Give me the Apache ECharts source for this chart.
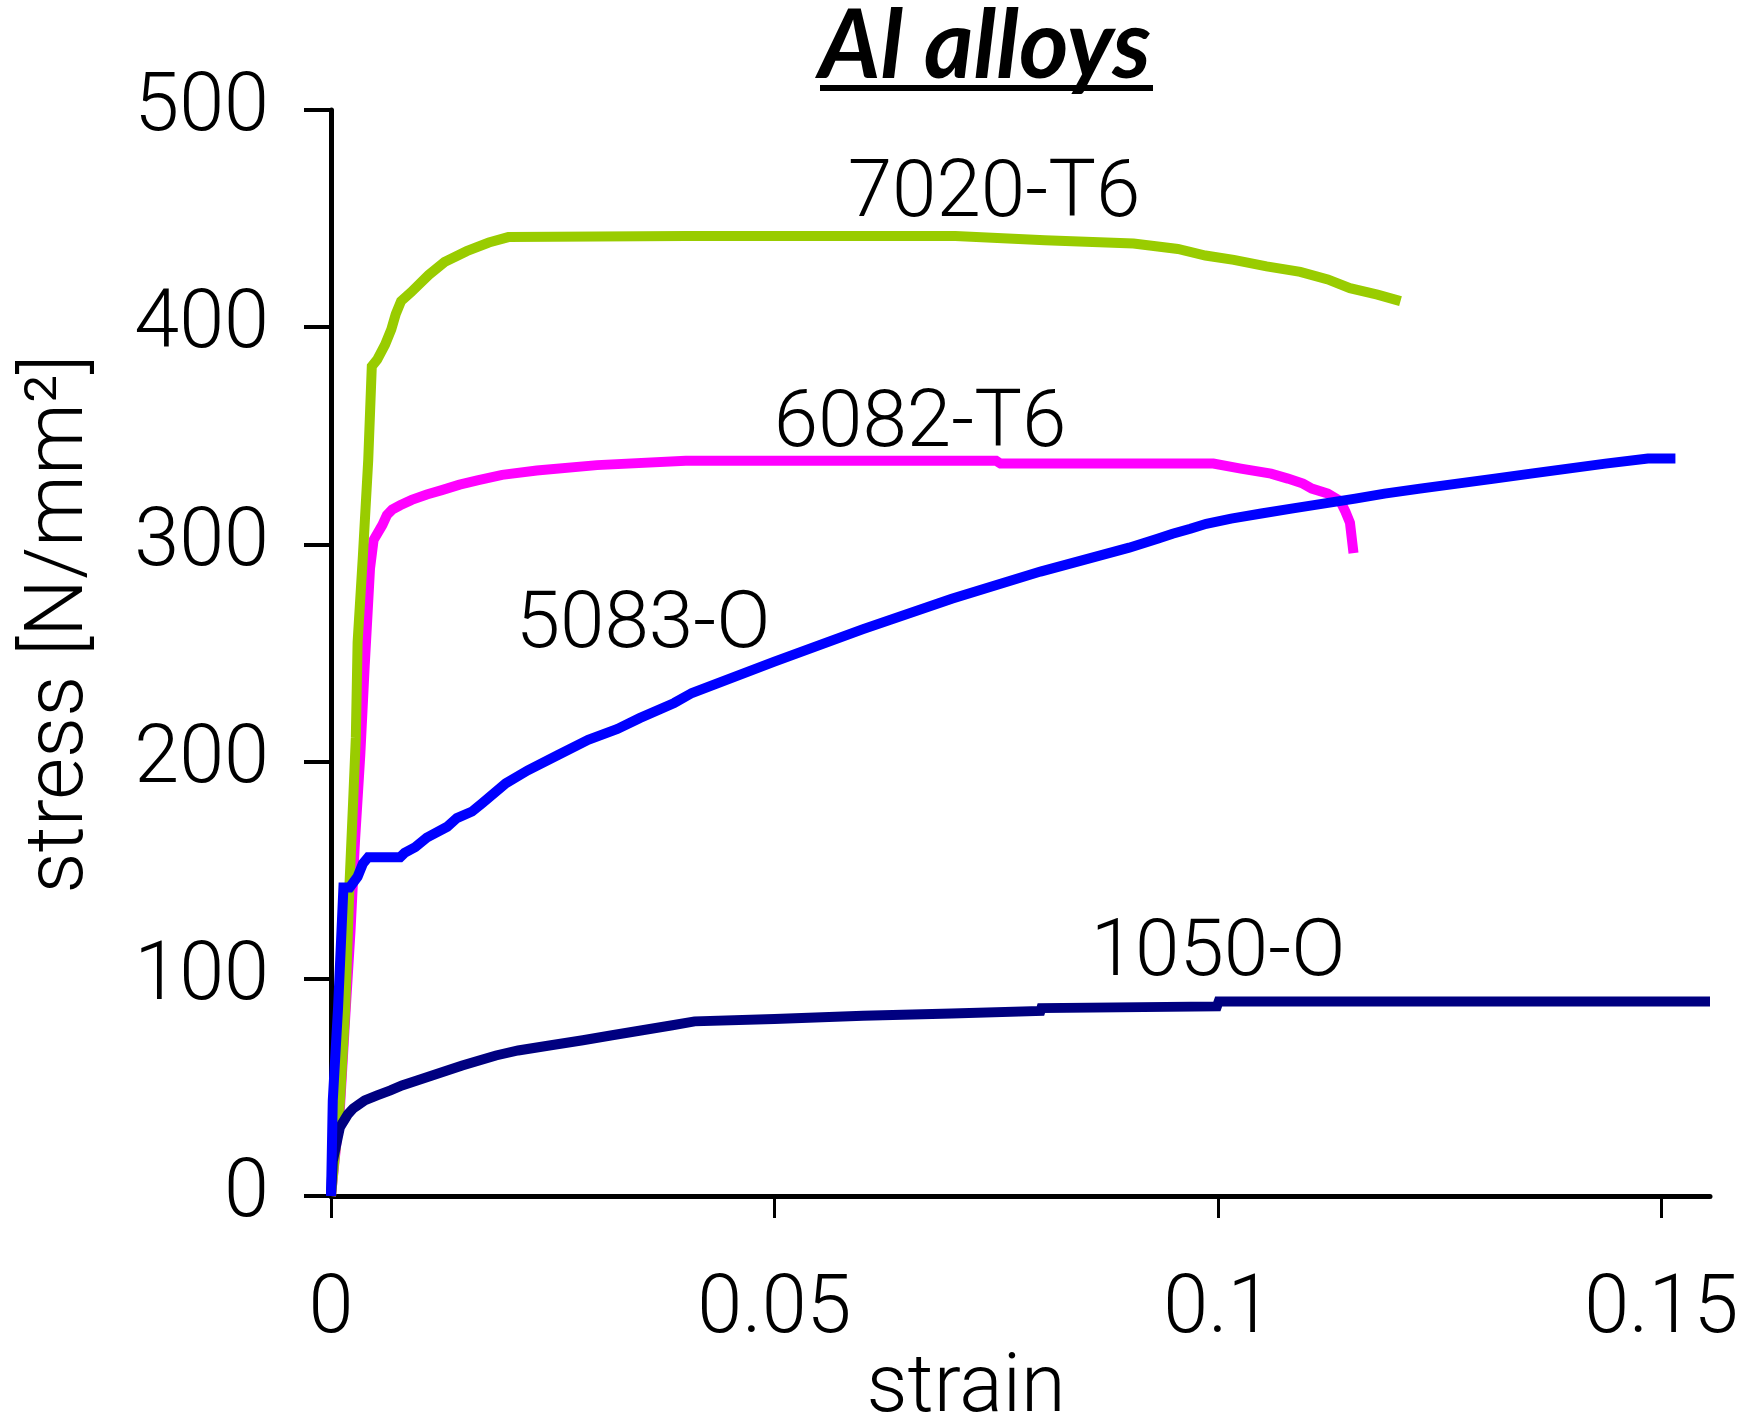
<!DOCTYPE html>
<html>
<head>
<meta charset="utf-8">
<script src="https://cdn.jsdelivr.net/npm/echarts@6/dist/echarts.min.js"></script>
<style>
html,body{margin:0;padding:0;background:#fff;}
#chart{width:1742px;height:1426px;}
</style>
</head>
<body>
<div id="chart"></div>
<script>
// ---- data ----
const strain7020 = [0,0.001,0.0016,0.0021,0.0025,0.0028,0.003,0.0036,0.0042,0.0046,0.0052,0.0061,0.0068,0.0073,0.0079,0.009,0.011,0.0128,0.0153,0.0178,0.02,0.04,0.0704,0.0805,0.0905,0.0955,0.0986,0.1018,0.1055,0.1093,0.1124,0.1149,0.118,0.1206];
const stress7020 = [0,43,86,145,182,211,255,295,339,382,385,392,399,406,412,416,424,430,435,439,441.5,442,442,440,438.5,436,433,431,428,425.5,422,418,415,412];

const strain6082 = [0,0.001,0.0016,0.0022,0.0027,0.0033,0.0038,0.0044,0.0048,0.0058,0.0063,0.0069,0.0078,0.0091,0.0108,0.0125,0.0145,0.0165,0.0193,0.0232,0.03,0.04,0.075,0.0755,0.0995,0.1026,0.106,0.1079,0.1096,0.1106,0.1124,0.1138,0.1144,0.1149,0.1153];
const stress6082 = [0,40,82,122,163,203,244,289,302,309,313.5,316,318,320.5,323,325,327.5,329.5,332,334,336.5,338.5,338.5,337.2,337.2,334.9,332.6,330.3,328,325.7,323.4,320,315,310,296];

const strain5083 = [0,0.0002,0.0008,0.0014,0.0021,0.003,0.0036,0.0042,0.0078,0.0083,0.0095,0.0108,0.0131,0.0142,0.0159,0.0171,0.0197,0.0222,0.0256,0.029,0.0323,0.0348,0.0387,0.0407,0.05,0.06,0.07,0.08,0.09,0.0932,0.0949,0.0969,0.0987,0.1015,0.1049,0.1083,0.1119,0.1155,0.1188,0.1228,0.127,0.1312,0.1353,0.1395,0.1437,0.1485,0.1516];
const stress5083 = [0,44,87,142,142,147,153,156,156,158,160.6,165,170,174,177,181,190,196,203,210,215,220,227,231.6,246,261,275,287.5,298.5,302.6,304.9,307.2,309.5,311.9,314.2,316.5,318.8,321.1,323.4,325.7,328,330.3,332.6,334.9,337.2,339.5,339.5];

const strain1050 = [0,0.0002,0.001,0.0019,0.0025,0.003,0.0038,0.0052,0.0067,0.008,0.0097,0.0114,0.0131,0.0148,0.0167,0.0186,0.0211,0.0248,0.0284,0.0317,0.0351,0.0385,0.041,0.05,0.06,0.07,0.08,0.0801,0.0999,0.1001,0.1555];
const stress1050 = [0,16,31.6,37.6,40.3,41.7,44,46.3,48.6,50.9,53.2,55.5,57.8,60.1,62.4,64.7,67,69.4,71.7,74,76.3,78.6,80.4,81.5,83,84,85.2,86.5,87.3,89.6,89.6];

const xTicks = [0, 0.05, 0.1, 0.15];
const yTicks = [0, 100, 200, 300, 400, 500];
const seriesNames = ['6082-T6', '7020-T6', '1050-O', '5083-O'];
const titleText = 'Al alloys';
const xName = 'strain';
const yName = 'stress [N/mm\u00B2]';

// ---- build ----
function zip(xs, ys) { return xs.map((x, i) => [x, ys[i]]); }

const FONT = 'Roboto, "Liberation Sans", Arial, sans-serif';
const LBL = 81;
const chart = echarts.init(document.getElementById('chart'), null, {renderer: 'canvas'});

function lineSeries(name, data, color) {
  return {
    name: name, type: 'line', data: data, showSymbol: false, symbol: 'none',
    smooth: false, animation: false,
    lineStyle: {color: color, width: 10, cap: 'butt', join: 'miter'},
    emphasis: {disabled: true}
  };
}

function txt(text, x, y, size, extra) {
  return Object.assign({
    type: 'text', x: x, y: y, silent: true,
    style: Object.assign({text: text, font: '300 ' + size + 'px ' + FONT, fill: '#000', align: 'center', verticalAlign: 'middle'}, extra || {})
  });
}

const option = {
  backgroundColor: '#fff',
  animation: false,
  grid: {left: 331, right: 32, top: 110, bottom: 230, containLabel: false},
  xAxis: {
    type: 'value', min: 0, max: 0.1555, interval: 0.05,
    splitLine: {show: false},
    axisLine: {onZero: false, lineStyle: {color: '#000', width: 5}},
    axisTick: {show: true, length: 22, lineStyle: {color: '#000', width: 3}, customValues: xTicks},
    axisLabel: {customValues: xTicks, margin: 75, color: '#000', fontSize: LBL, fontFamily: FONT, fontWeight: 300}
  },
  yAxis: {
    type: 'value', min: 0, max: 500, interval: 100,
    splitLine: {show: false},
    axisLine: {onZero: false, lineStyle: {color: '#000', width: 5}},
    axisTick: {show: true, length: 27, lineStyle: {color: '#000', width: 4}, customValues: yTicks},
    axisLabel: {customValues: yTicks, margin: 62, color: '#000', fontSize: LBL, fontFamily: FONT, fontWeight: 300}
  },
  series: [
    lineSeries(seriesNames[0], zip(strain6082, stress6082), '#FF00FF'),
    lineSeries(seriesNames[1], zip(strain7020, stress7020), '#99CC00'),
    lineSeries(seriesNames[2], zip(strain1050, stress1050), '#000080'),
    lineSeries(seriesNames[3], zip(strain5083, stress5083), '#0000FF')
  ],
  graphic: [
    {type: 'text', x: 985, y: 47, silent: true,
     style: {text: titleText, font: 'italic bold 95px Lato, "Liberation Sans", sans-serif', fill: '#000', align: 'center', verticalAlign: 'middle'}},
    {type: 'rect', silent: true, shape: {x: 820, y: 85, width: 333, height: 6}, style: {fill: '#000'}},
    txt(xName, 966, 1391, LBL),
    Object.assign(txt(yName, 62, 624, LBL), {rotation: Math.PI / 2}),
    txt('7020-T6', 994, 196, 80),
    txt('6082-T6', 920, 426, 80),
    txt('5083-O', 643, 627, 80),
    txt('1050-O', 1218, 955, 80)
  ]
};
chart.setOption(option);
</script>
</body>
</html>
